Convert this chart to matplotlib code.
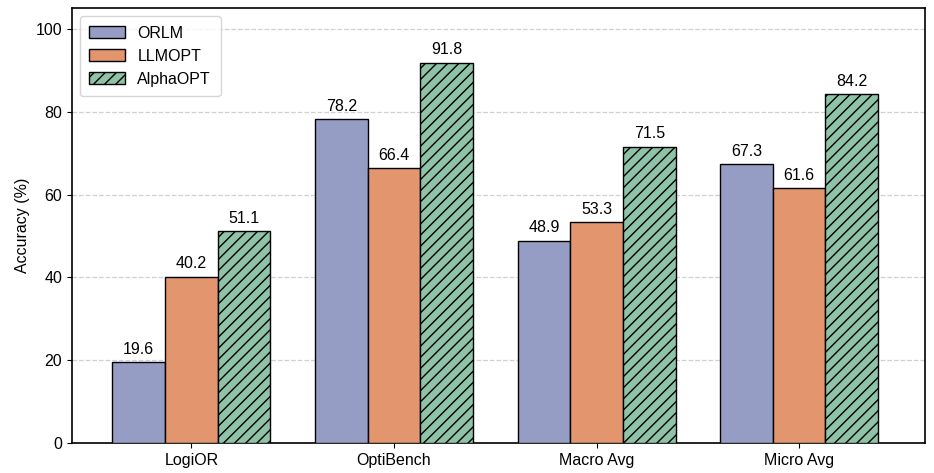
import numpy as np
import matplotlib.pyplot as plt

plt.rcParams['font.family'] = ['Liberation Sans', 'DejaVu Sans']
plt.rcParams['hatch.linewidth'] = 1.0

categories = ['LogiOR', 'OptiBench', 'Macro Avg', 'Micro Avg']
orlm = [19.6, 78.2, 48.9, 67.3]
llmopt = [40.2, 66.4, 53.3, 61.6]
alphaopt = [51.1, 91.8, 71.5, 84.2]

x = np.arange(len(categories))
w = 0.26

fig, ax = plt.subplots(figsize=(9.34, 4.73), dpi=100)
b1 = ax.bar(x - w, orlm, w, color='#959dc5', edgecolor='black', linewidth=1, label='ORLM', zorder=3)
b2 = ax.bar(x, llmopt, w, color='#e3956e', edgecolor='black', linewidth=1, label='LLMOPT', zorder=3)
b3 = ax.bar(x + w, alphaopt, w, color='#8fc3a7', edgecolor='black', linewidth=1, hatch='///', label='AlphaOPT', zorder=3)

for bars in (b1, b2, b3):
    for b in bars:
        ax.text(b.get_x() + b.get_width() / 2, b.get_height() + 1.3, '%.1f' % b.get_height(),
                ha='center', va='bottom', fontsize=11.5)

ax.set_xticks(x)
ax.set_xticklabels(categories, fontsize=11.5)
ax.set_ylabel('Accuracy (%)', fontsize=11.5)
ax.set_ylim(0, 105)
ax.set_xlim(-0.59, 3.62)
ax.tick_params(axis='y', labelsize=11.5)
ax.yaxis.grid(True, linestyle='--', color='#d0d0d0', linewidth=0.9, zorder=0)
for s in ax.spines.values():
    s.set_linewidth(1.2)
ax.legend(loc='upper left', fontsize=11.5, handlelength=2.2, borderpad=0.6, labelspacing=0.5)

plt.subplots_adjust(left=0.077, right=0.99, top=0.983, bottom=0.063)
plt.savefig('out.png', dpi=100)
